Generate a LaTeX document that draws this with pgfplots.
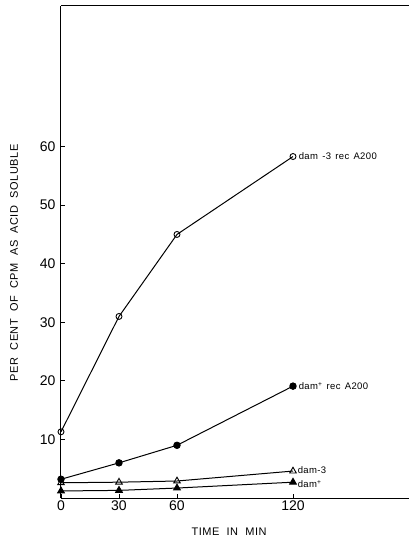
\documentclass[border=0pt]{standalone}
\usepackage{pgfplots}
\pgfplotsset{compat=1.18}
\usepackage{fontspec}
\setmainfont{Liberation Sans}
\newfontfamily\ylab[LetterSpace=5,WordSpace=2]{Liberation Sans}
\newfontfamily\xlab[LetterSpace=5,WordSpace=2]{Liberation Sans}
\newfontfamily\ann[LetterSpace=4,WordSpace=1.4]{Liberation Sans}

\begin{document}
\begin{tikzpicture}
\useasboundingbox (-61pt,-40pt) rectangle (348pt,498pt);
\begin{axis}[
  scale only axis,
  width=348pt, height=492pt,
  xmin=0, xmax=180, ymin=0, ymax=84,
  axis lines=left,
  axis line style={-, line width=1pt},
  xtick={0,30,60,120},
  ytick={10,20,30,40,50,60},
  tick align=inside,
  major tick length=4pt,
  tick style={line width=0.9pt, black},
  /pgf/number format/assume math mode=true,
  ticklabel style={font=\fontsize{14}{15}\selectfont},
  yticklabel style={xshift=-2pt},
  xticklabel style={yshift=1pt},
  xlabel={\xlab\fontsize{11}{12}\selectfont TIME IN MIN},
  ylabel={\ylab\fontsize{11}{12}\selectfont PER CENT OF CPM AS ACID SOLUBLE},
  xlabel style={at={(rel axis cs:0.483,0)}, anchor=center, yshift=-34pt},
  ylabel style={at={(rel axis cs:-0.135,0.478)}, anchor=center},
  every axis plot/.append style={black, line width=1pt},
  clip=false,
]
\addplot[mark=o, mark size=3pt, mark options={line width=0.9pt}] coordinates {
  (0,11.3) (30,31.0) (60,45.0) (120,58.3)
} node[right, xshift=2pt, font=\ann\fontsize{9.5}{11}\selectfont] {dam -3 rec A200};
\addplot[mark=*, mark size=3.2pt] coordinates {
  (0,3.2) (30,6.0) (60,9.0) (120,19.1)
} node[right, xshift=2pt, font=\ann\fontsize{9.5}{11}\selectfont] {dam\textsuperscript{+} rec A200};
\addplot[mark=triangle, mark size=3.8pt, mark options={line width=0.9pt}] coordinates {
  (0,2.6) (30,2.7) (60,2.9) (120,4.6)
} node[right, xshift=1pt, yshift=1pt, font=\ann\fontsize{9.5}{11}\selectfont] {dam-3};
\addplot[mark=triangle*, mark size=3.8pt] coordinates {
  (0,1.2) (30,1.3) (60,1.7) (120,2.7)
} node[right, xshift=1pt, yshift=-2pt, font=\ann\fontsize{9.5}{11}\selectfont] {dam\textsuperscript{+}};
\draw[line width=1pt] (rel axis cs:0,1) -- (rel axis cs:1,1);
\end{axis}
\end{tikzpicture}
\end{document}
